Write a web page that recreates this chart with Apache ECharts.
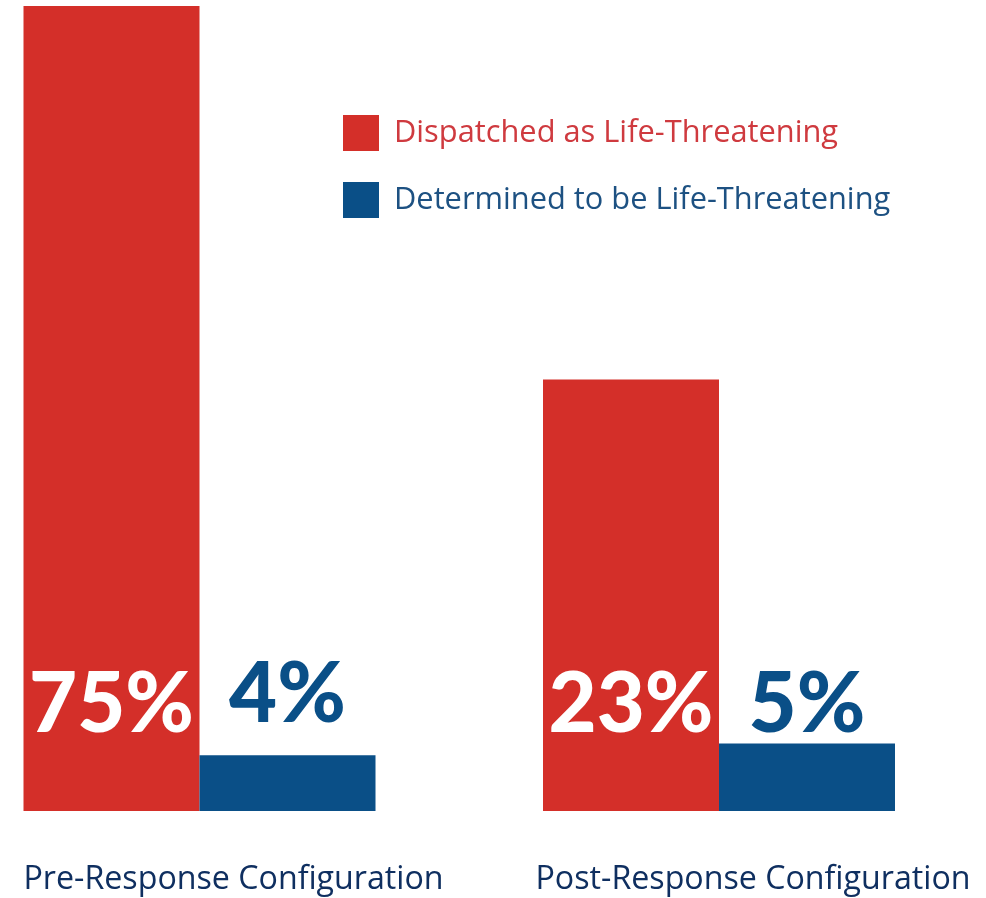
<!DOCTYPE html>
<html>
<head>
<meta charset="utf-8">
<script src="https://cdn.jsdelivr.net/npm/echarts@6/dist/echarts.min.js"></script>
<style>
  html, body { margin: 0; padding: 0; background: #ffffff; }
  #chart { width: 986px; height: 898px; }
</style>
</head>
<body>
<div id="chart"></div>
<script>
// Categories
var categories = ['Pre-Response Configuration', 'Post-Response Configuration'];
// Series names
var seriesNames = ['Dispatched as Life-Threatening', 'Determined to be Life-Threatening'];
// Percentages printed on the chart
var dispatchedPct = [75, 23];
var determinedPct = [4, 5];
// Bar heights as drawn in the picture (the graphic is not to scale), in units where the tallest bar = 75
var dispatchedBarHeight = [75, 40.2];
var determinedBarHeight = [5.2, 6.3];

var RED = '#d42f29';
var BLUE = '#0a4f87';

var chart = echarts.init(document.getElementById('chart'), null, { renderer: 'canvas' });

var option = {
  animation: false,
  backgroundColor: '#ffffff',
  grid: { left: 199.5, right: 267, top: 6, bottom: 87, containLabel: false, outerBoundsMode: 'none' },
  legend: {
    orient: 'vertical',
    left: 343,
    top: 115,
    padding: 0,
    itemWidth: 36,
    itemHeight: 36,
    itemGap: 31,
    icon: 'rect',
    selectedMode: false,
    data: [
      { name: seriesNames[0], textStyle: { color: '#cf3a3f' } },
      { name: seriesNames[1], textStyle: { color: '#1d5182' } }
    ],
    textStyle: {
      fontFamily: 'Open Sans',
      fontSize: 30.8,
      padding: [0, 0, 0, 10]
    }
  },
  xAxis: {
    type: 'category',
    data: categories,
    boundaryGap: false,
    axisLine: { show: false },
    axisTick: { show: false },
    splitLine: { show: false },
    axisLabel: {
      interval: 0,
      margin: 53,
      fontFamily: 'Open Sans',
      fontSize: 32.2,
      lineHeight: 32,
      color: '#0f2f60',
      padding: [0, 0, 0, 68]
    }
  },
  yAxis: {
    type: 'value',
    min: 0,
    max: 75,
    show: false,
    splitLine: { show: false }
  },
  series: [
    {
      name: seriesNames[0],
      type: 'bar',
      data: dispatchedBarHeight,
      barWidth: 176,
      barGap: '0%',
      itemStyle: { color: RED },
      label: {
        show: true,
        position: 'insideBottom',
        distance: 70,
        offset: [0, 5],
        fontFamily: 'Lato',
        fontWeight: 900,
        fontSize: 83,
        lineHeight: 82,
        color: '#ffffff',
        formatter: function (p) { return dispatchedPct[p.dataIndex] + '%'; }
      }
    },
    {
      name: seriesNames[1],
      type: 'bar',
      data: [
        { value: determinedBarHeight[0], label: { distance: 24 } },
        { value: determinedBarHeight[1], label: { distance: 2 } }
      ],
      barWidth: 176,
      barGap: '0%',
      itemStyle: { color: BLUE },
      label: {
        show: true,
        position: 'top',
        offset: [0, 5],
        fontFamily: 'Lato',
        fontWeight: 900,
        fontSize: 83,
        lineHeight: 82,
        color: BLUE,
        formatter: function (p) { return determinedPct[p.dataIndex] + '%'; }
      }
    }
  ]
};

chart.setOption(option);
</script>
</body>
</html>
